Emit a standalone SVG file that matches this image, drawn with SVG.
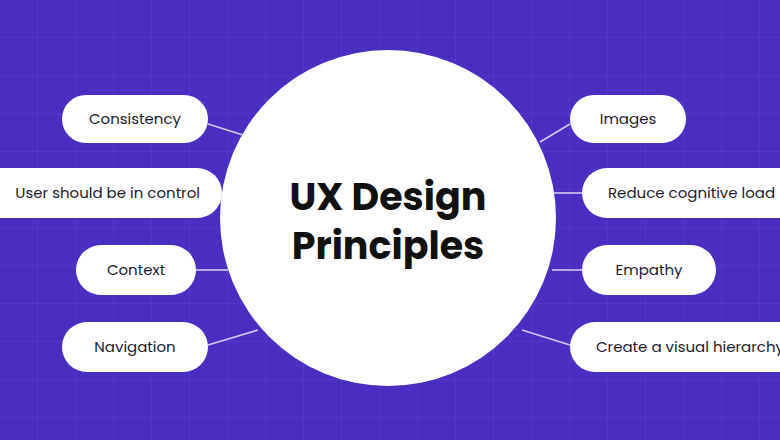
<svg xmlns="http://www.w3.org/2000/svg" width="780" height="440" viewBox="0 0 780 440">
<defs>
<style>
.pill{fill:#fff}
.t{font-family:"Poppins","Inter","Liberation Sans",sans-serif;font-size:15px;fill:#1a1a2e}
.c{stroke:#fff;stroke-width:1.6;opacity:0.75}
.g{stroke:#6a52d6;stroke-width:1;opacity:0.5;fill:none}
</style>
<pattern id="grid" width="38" height="38" patternUnits="userSpaceOnUse">
<path d="M38 0V38M0 38H38" class="g"/>
</pattern>
</defs>
<rect width="780" height="440" fill="#4a2ec2"/>
<rect width="780" height="440" fill="url(#grid)"/>
<g id="connectors">
<line class="c" x1="208" y1="124" x2="243" y2="135"/>
<line class="c" x1="222" y1="193" x2="232" y2="193"/>
<line class="c" x1="196" y1="270" x2="228" y2="270"/>
<line class="c" x1="208" y1="345" x2="258" y2="330"/>
<line class="c" x1="570" y1="124" x2="540" y2="142"/>
<line class="c" x1="582" y1="193" x2="554" y2="193"/>
<line class="c" x1="582" y1="270" x2="552" y2="270"/>
<line class="c" x1="570" y1="345" x2="522" y2="330"/>
</g>
<g id="center">
<circle cx="388" cy="218" r="168" fill="#fff"/>
<text x="388" y="210" text-anchor="middle" font-family="Poppins,Inter,'Liberation Sans',sans-serif" font-weight="700" font-size="38" fill="#111">UX Design</text>
<text x="388" y="259" text-anchor="middle" font-family="Poppins,Inter,'Liberation Sans',sans-serif" font-weight="700" font-size="38" fill="#111">Principles</text>
</g>
<g id="consistency"><rect class="pill" x="62" y="95" width="146" height="48" rx="24"/><text class="t" x="135" y="124" text-anchor="middle">Consistency</text></g>
<g id="control"><rect class="pill" x="-60" y="168" width="282" height="50" rx="25"/><text class="t" x="200" y="198" text-anchor="end" font-size="16">User should be in control</text></g>
<g id="context"><rect class="pill" x="76" y="245" width="120" height="50" rx="25"/><text class="t" x="136" y="275" text-anchor="middle">Context</text></g>
<g id="navigation"><rect class="pill" x="62" y="322" width="146" height="50" rx="25"/><text class="t" x="135" y="352" text-anchor="middle">Navigation</text></g>
<g id="images"><rect class="pill" x="570" y="95" width="116" height="48" rx="24"/><text class="t" x="628" y="124" text-anchor="middle">Images</text></g>
<g id="reduce"><rect class="pill" x="582" y="168" width="260" height="50" rx="25"/><text class="t" x="608" y="198">Reduce cognitive load</text></g>
<g id="empathy"><rect class="pill" x="582" y="245" width="134" height="50" rx="25"/><text class="t" x="649" y="275" text-anchor="middle">Empathy</text></g>
<g id="hierarchy"><rect class="pill" x="570" y="322" width="270" height="50" rx="25"/><text class="t" x="596" y="352">Create a visual hierarchy</text></g>
</svg>
